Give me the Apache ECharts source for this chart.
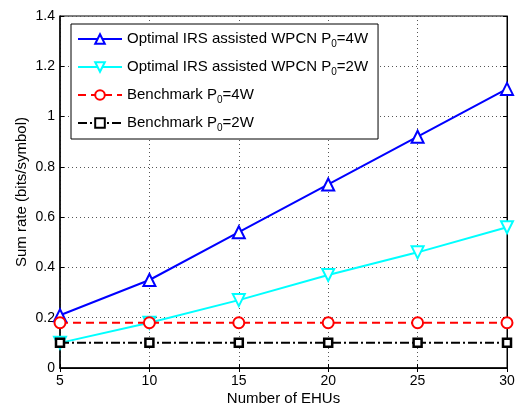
<!DOCTYPE html>
<html>
<head>
<meta charset="utf-8">
<script src="https://cdn.jsdelivr.net/npm/echarts@6/dist/echarts.min.js"></script>
<style>
  html, body { margin: 0; padding: 0; background: #fff; }
  #chart { width: 518px; height: 405px; }
</style>
</head>
<body>
<div id="chart"></div>
<script>
// number of EHUs
const ehus = [5, 10, 15, 20, 25, 30];

const optimal4W = [0.21, 0.35, 0.54, 0.73, 0.92, 1.11];
const optimal2W = [0.10, 0.18, 0.27, 0.37, 0.46, 0.56];
const bench4W = [0.18, 0.18, 0.18, 0.18, 0.18, 0.18];
const bench2W = [0.10, 0.10, 0.10, 0.10, 0.10, 0.10];

const names = [
    'Optimal IRS assisted WPCN P{sub|0}=4W',
    'Optimal IRS assisted WPCN P{sub|0}=2W',
    'Benchmark P{sub|0}=4W',
    'Benchmark P{sub|0}=2W'
];

const font = 'Liberation Sans, Arial, sans-serif';

function pairs(ys) {
    return ys.map((y, i) => [ehus[i], y]);
}

function makeSeries(name, ys, color, symbol, size, lineType, border) {
    return {
        name: name,
        type: 'line',
        data: pairs(ys),
        symbol: symbol,
        symbolSize: size,
        showSymbol: true,
        lineStyle: { color: color, width: 2, type: lineType },
        itemStyle: { color: '#fff', borderColor: color, borderWidth: border || 2 },
        emphasis: { disabled: true },
        z: 3
    };
}

let chart = echarts.init(document.getElementById('chart'));

const tickText = { color: '#000', fontFamily: font, fontSize: 14 };
const nameText = { color: '#000', fontFamily: font, fontSize: 15 };
const splitDots = { show: true, lineStyle: { color: '#555', width: 1, type: [1, 3] } };

chart.setOption({
    animation: false,
    backgroundColor: '#fff',
    grid: {
        left: 60, right: 11, top: 16, bottom: 37,
        outerBoundsMode: 'none',
        containLabel: false,
        show: true, borderColor: '#000', borderWidth: 1
    },
    legend: {
        orient: 'vertical',
        left: 71, top: 24,
        width: 305,
        padding: [6, 10, 6, 6],
        itemGap: 9,
        itemWidth: 44,
        itemHeight: 12,
        backgroundColor: '#fff',
        borderColor: '#000',
        borderWidth: 1,
        borderRadius: 0,
        selectedMode: false,
        textStyle: {
            color: '#000', fontFamily: font, fontSize: 15, lineHeight: 18,
            rich: {
                sub: { fontSize: 10, fontFamily: font, color: '#000', padding: [10, 0, 0, 0] }
            }
        },
        data: names
    },
    xAxis: [{
        type: 'value',
        min: 5, max: 30, interval: 5,
        name: 'Number of EHUs',
        nameLocation: 'middle',
        nameGap: 23,
        nameMoveOverlap: false,
        nameTextStyle: nameText,
        axisLine: { show: true, onZero: false, lineStyle: { color: '#000', width: 1.5 } },
        axisTick: { show: true, inside: true, length: 4, lineStyle: { color: '#000' } },
        axisLabel: Object.assign({ margin: 6 }, tickText),
        splitLine: splitDots
    }, {
        type: 'value',
        position: 'top',
        min: 5, max: 30, interval: 5,
        axisLine: { show: true, lineStyle: { color: '#000' } },
        axisTick: { show: true, inside: true, length: 4, lineStyle: { color: '#000' } },
        axisLabel: { show: false },
        splitLine: { show: false }
    }],
    yAxis: [{
        type: 'value',
        min: 0, max: 1.4, interval: 0.2,
        name: 'Sum rate (bits/symbol)',
        nameLocation: 'middle',
        nameGap: 31,
        nameMoveOverlap: false,
        nameTextStyle: nameText,
        axisLine: { show: true, onZero: false, lineStyle: { color: '#000', width: 1.5 } },
        axisTick: { show: true, inside: true, length: 4, lineStyle: { color: '#000' } },
        axisLabel: Object.assign({
            margin: 5,
            formatter: v => (Math.round(v * 10) / 10).toString()
        }, tickText),
        splitLine: splitDots
    }, {
        type: 'value',
        position: 'right',
        min: 0, max: 1.4, interval: 0.2,
        axisLine: { show: true, lineStyle: { color: '#000' } },
        axisTick: { show: true, inside: true, length: 4, lineStyle: { color: '#000' } },
        axisLabel: { show: false },
        splitLine: { show: false }
    }],
    series: [
        makeSeries(names[0], optimal4W, '#0000ff', 'triangle', 12, 'solid'),
        makeSeries(names[1], optimal2W, '#00ffff', 'path://M0,0 L10,0 L5,9 Z', 12, 'solid'),
        makeSeries(names[2], bench4W, '#ff0000', 'circle', 11, [8, 5]),
        makeSeries(names[3], bench2W, '#000000', 'rect', 8, [9, 3, 2, 3], 2.5)
    ]
});
</script>
</body>
</html>
